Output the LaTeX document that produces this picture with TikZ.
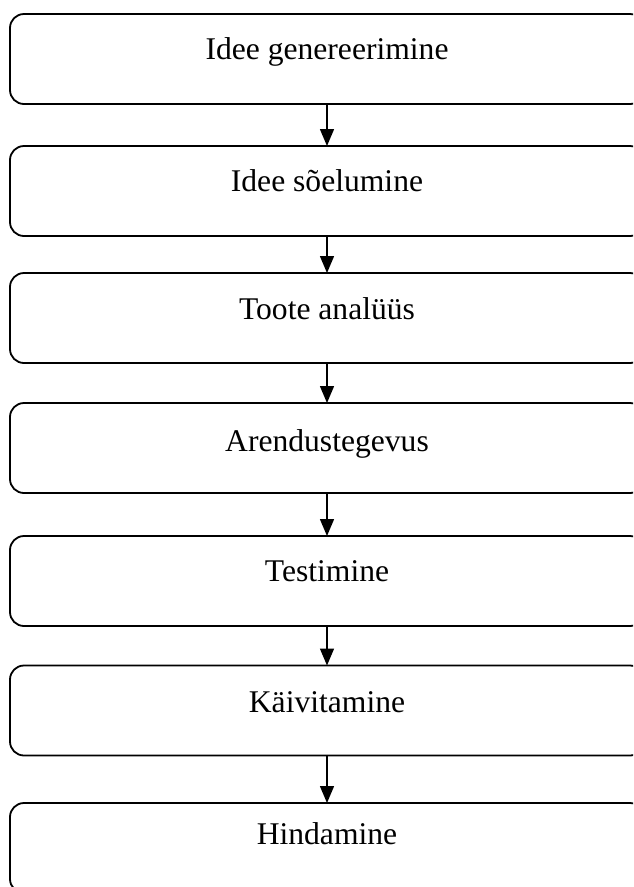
\documentclass[tikz,border=0pt]{standalone}
\usepackage{fontspec}
\setmainfont{Liberation Serif}
\usetikzlibrary{arrows.meta}
\begin{document}
\begin{tikzpicture}[x=1pt,y=-1pt,
  stagebox/.style={draw=black,line width=1.8pt,rounded corners=14pt,minimum width=634pt,minimum height=90pt,inner sep=0pt,outer sep=0pt},
  lbl/.style={font=\fontsize{31.6}{36}\selectfont,anchor=mid,inner sep=0pt},
  arr/.style={line width=1.5pt,-{Triangle[width=14pt,length=17pt]}}]
\useasboundingbox (0,0) rectangle (633,887);
\clip (0,0) rectangle (633,887);
\node[stagebox] (b1) at (327,59) {};
\node[stagebox] (b2) at (327,191) {};
\node[stagebox] (b3) at (327,318) {};
\node[stagebox] (b4) at (327,448) {};
\node[stagebox] (b5) at (327,581) {};
\node[stagebox] (b6) at (327,710.5) {};
\node[stagebox] (b7) at (327,848) {};
\node[lbl] (t1) at (327,57) {Idee genereerimine};
\node[lbl] (t2) at (327,189) {Idee sõelumine};
\node[lbl] (t3) at (327,317) {Toote analüüs};
\node[lbl] (t4) at (327,449) {Arendustegevus};
\node[lbl] (t5) at (327,579) {Testimine};
\node[lbl] (t6) at (327,710) {Käivitamine};
\node[lbl] (t7) at (327,842) {Hindamine};
\draw[arr] (b1.south) -- (b2.north);
\draw[arr] (b2.south) -- (b3.north);
\draw[arr] (b3.south) -- (b4.north);
\draw[arr] (b4.south) -- (b5.north);
\draw[arr] (b5.south) -- (b6.north);
\draw[arr] (b6.south) -- (b7.north);
\end{tikzpicture}
\end{document}
